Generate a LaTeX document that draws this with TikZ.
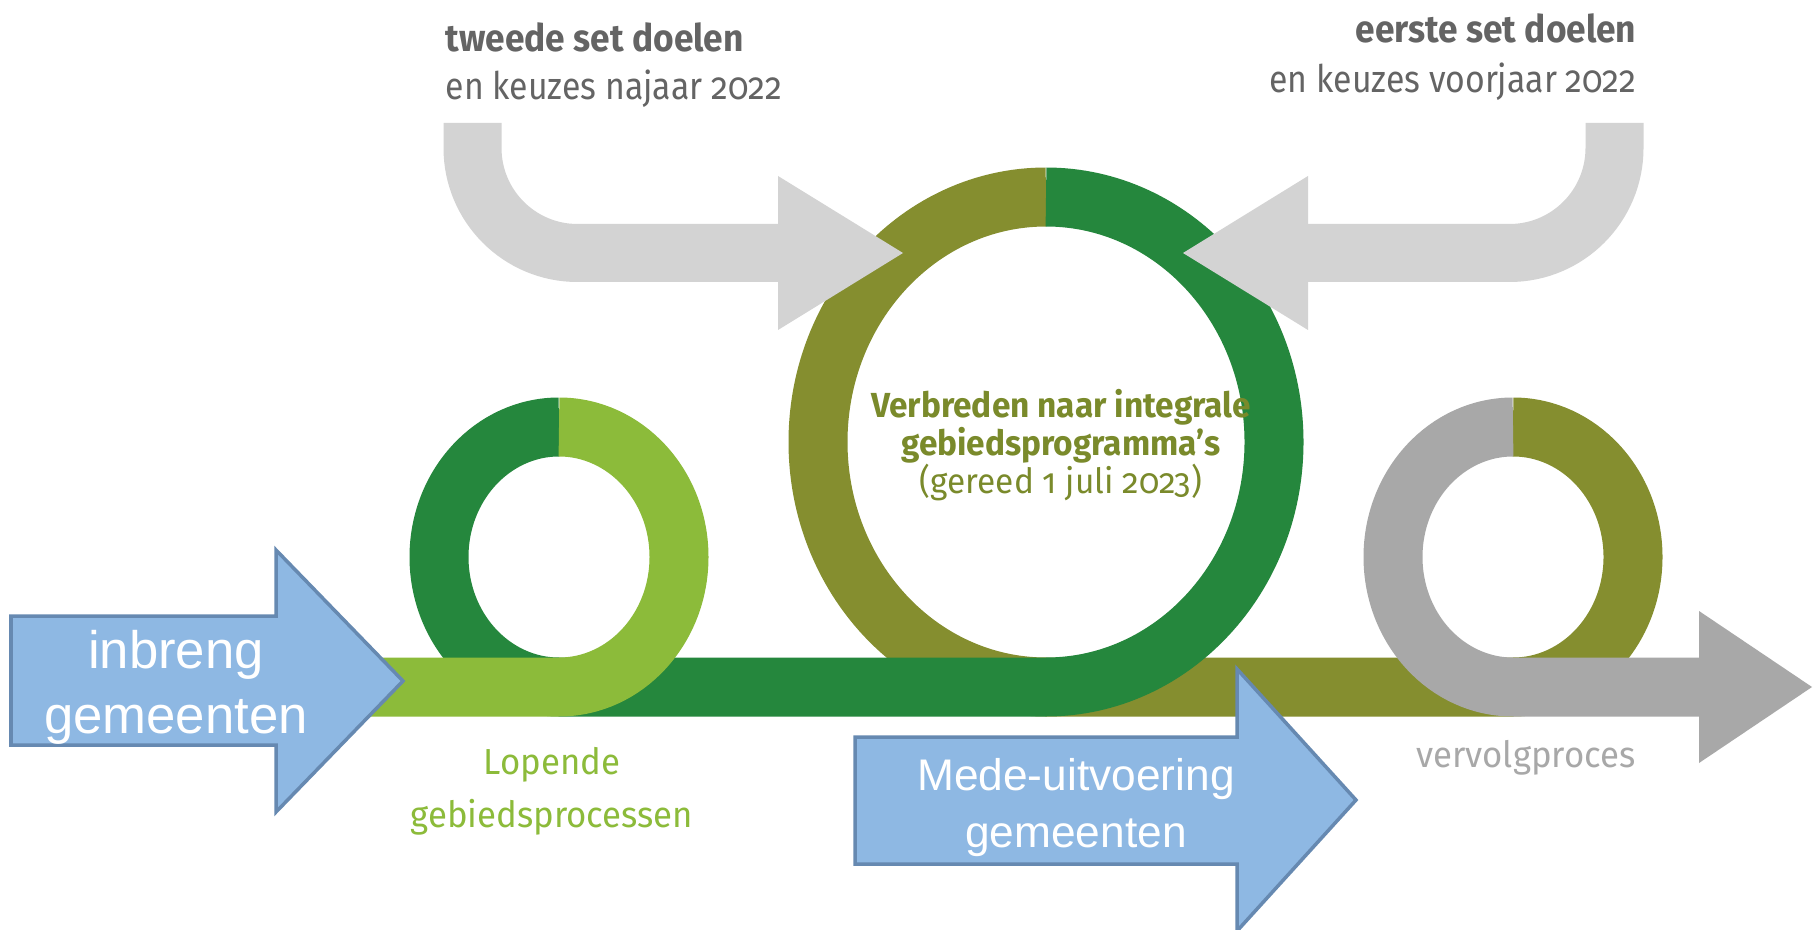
\documentclass[tikz,border=0pt]{standalone}
\usepackage{fontspec}
\setmainfont{Liberation Sans}
\newfontfamily\rofont[Numbers=OldStyle,UprightFeatures={FakeStretch=0.89},BoldFeatures={FakeStretch=0.93}]{Fira Sans}
\newfontfamily\rofontw[FakeStretch=0.96,Numbers=OldStyle]{Fira Sans}
\usepackage{tikz}
\definecolor{lichtgroen}{HTML}{8CBB3A}
\definecolor{donkergroen}{HTML}{25873D}
\definecolor{olijf}{HTML}{858E2F}
\definecolor{grijs}{HTML}{A8A8A8}
\definecolor{lichtgrijs}{HTML}{D3D3D3}
\definecolor{blauw}{HTML}{8EB8E3}
\definecolor{blauwrand}{HTML}{6689B1}
\definecolor{tekstgrijs}{HTML}{646464}
\definecolor{olijftekst}{HTML}{7A8A2B}
\tikzset{
  lus/.style = {line width=0.59cm},% band en ringen
  lus_lg/.style = {lus, draw=lichtgroen},
  lus_dg/.style = {lus, draw=donkergroen},
  lus_ol/.style = {lus, draw=olijf},
  lus_gr/.style = {lus, draw=grijs},
  doel/.style = {line width=0.58cm, draw=lichtgrijs, rounded corners=1.05cm},% grijze pijlen boven
  doel_kop/.style = {fill=lichtgrijs},
  gem/.style = {fill=blauw, draw=blauwrand, line width=0.035cm},% blauwe pijlen
  gem_tekst/.style = {align=center, text=white, inner sep=0pt},
  ro_tekst/.style = {inner sep=0pt}
}
\begin{document}
\begin{tikzpicture}
  \clip (0,0) rectangle (18.13,9.29);
  \fill[white] (0,0) rectangle (18.13,9.29);
  % middelpunten van de ringen
  \coordinate (ringA) at (5.59,3.72);
  \coordinate (ringB) at (10.46,4.87);
  \coordinate (ringC) at (15.13,3.72);
  % olijf eerst, dan donkergroen, lichtgroen en grijs
  \draw[lus_ol] ([yshift=2.45cm]ringB) arc[start angle=90, end angle=270, x radius=2.28cm, y radius=2.45cm]
    -- ([yshift=-1.30cm]ringC) arc[start angle=-90, end angle=90, x radius=1.20cm, y radius=1.30cm];
  \draw[lus_dg] ([yshift=1.30cm]ringA) arc[start angle=90, end angle=270, x radius=1.20cm, y radius=1.30cm]
    -- ([yshift=-2.45cm]ringB) arc[start angle=-90, end angle=90, x radius=2.28cm, y radius=2.45cm];
  \draw[lus_lg] (3.70,2.42) -- ([yshift=-1.30cm]ringA)
    arc[start angle=-90, end angle=90, x radius=1.20cm, y radius=1.30cm];
  \draw[lus_gr] ([yshift=1.30cm]ringC) arc[start angle=90, end angle=270, x radius=1.20cm, y radius=1.30cm]
    -- (16.99,2.42);
  \fill[grijs] (16.99,3.18) -- (18.12,2.42) -- (16.99,1.66) -- cycle;
  % grijze pijlen naar de grote ring
  \coordinate (tweede) at (4.725,8.06);
  \coordinate (eerste) at (16.145,8.06);
  \draw[doel] (tweede) |- (7.82,6.76);
  \fill[doel_kop] (7.78,7.53) -- (9.03,6.76) -- (7.78,5.99) -- cycle;
  \draw[doel] (eerste) |- (13.04,6.76);
  \fill[doel_kop] (13.08,7.53) -- (11.83,6.76) -- (13.08,5.99) -- cycle;
  % blauwe pijlen
  \draw[gem] (0.11,3.13) -- (2.76,3.13) -- (2.76,3.79) -- (4.03,2.48) -- (2.76,1.17) -- (2.76,1.84) -- (0.11,1.84) -- cycle;
  \draw[gem] (8.55,1.92) -- (12.37,1.92) -- (12.37,2.60) -- (13.56,1.29) -- (12.37,-0.02) -- (12.37,0.65) -- (8.55,0.65) -- cycle;
  \node[gem_tekst, font=\fontsize{15}{18.3}\selectfont, anchor=base] (inbreng) at (1.76,1.96) {inbreng\\gemeenten};
  \node[gem_tekst, font=\fontsize{12.6}{16.2}\selectfont, anchor=base] (mede) at (10.76,0.82) {Mede-uitvoering\\gemeenten};
  % teksten
  \node[ro_tekst, text=tekstgrijs, align=left, anchor=base west, font=\rofont\fontsize{10.8}{13.7}\selectfont] (tweedeset) at (4.45,8.29)
    {\textbf{tweede set doelen}\\en keuzes najaar 2022};
  \node[ro_tekst, text=tekstgrijs, align=right, anchor=base east, font=\rofont\fontsize{10.8}{14.5}\selectfont] (eersteset) at (16.37,8.36)
    {\textbf{eerste set doelen}\\en keuzes voorjaar 2022};
  \node[ro_tekst, text=olijftekst, align=center, anchor=base, font=\rofontw\fontsize{9.9}{10.8}\selectfont] (verbreden) at (10.61,4.36)
    {\textbf{Verbreden naar integrale}\\\textbf{gebiedsprogramma’s}\\(gereed 1 juli 2023)};
  \node[ro_tekst, text=lichtgroen, align=center, anchor=base, font=\rofontw\fontsize{10.3}{14.8}\selectfont] (lopende) at (5.52,1.02)
    {Lopende\\gebiedsprocessen};
  \node[ro_tekst, text=grijs, anchor=base, font=\rofontw\fontsize{10.3}{14.8}\selectfont] (vervolg) at (15.26,1.62) {vervolgproces};
\end{tikzpicture}
\end{document}
